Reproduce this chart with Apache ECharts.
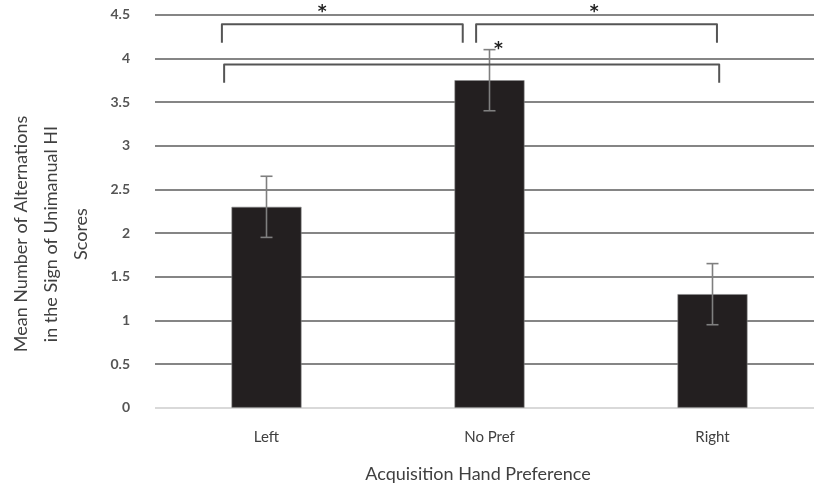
<!DOCTYPE html>
<html>
<head>
<meta charset="utf-8">
<script src="https://cdn.jsdelivr.net/npm/echarts@6/dist/echarts.min.js"></script>
<style>html,body{margin:0;padding:0;background:#fff;}#c{width:814px;height:484px;}</style>
</head>
<body>
<div id="c"></div>
<script>
var categories = ['Left', 'No Pref', 'Right'];
var means = [2.3, 3.75, 1.3];
var errLow = [1.95, 3.4, 0.95];
var errHigh = [2.65, 4.1, 1.65];
var yTicks = [0, 0.5, 1, 1.5, 2, 2.5, 3, 3.5, 4, 4.5];
// significance brackets: [xStart, xEnd, yTop, yBottom] in category-index / value units
var brackets = [
  [-0.2, 0.88, 4.39, 4.18],
  [0.94, 2.02, 4.39, 4.18],
  [-0.19, 2.03, 3.93, 3.72]
];
// stars: [x, y]
var stars = [[0.25, 4.56], [1.47, 4.56], [1.04, 4.13]];

var FONT = "Lato, 'Open Sans', sans-serif";
var chart = echarts.init(document.getElementById('c'), null, {renderer: 'canvas'});

var gridColors = yTicks.map(function (t, i) { return i === 0 ? '#d9d9d9' : '#858585'; });

chart.setOption({
  animation: false,
  backgroundColor: '#ffffff',
  title: {
    text: 'Acquisition Hand Preference',
    left: 473, top: 460, textAlign: 'center',
    textStyle: {fontFamily: FONT, fontSize: 18, fontWeight: 'normal', color: '#404040'}
  },
  graphic: [{
    type: 'text',
    x: 51, y: 234,
    rotation: Math.PI / 2,
    style: {
      text: 'Mean Number of Alternations\nin the Sign of Unimanual HI\nScores',
      fontFamily: FONT, fontSize: 18, lineHeight: 30,
      fill: '#404040', align: 'center', verticalAlign: 'middle'
    }
  }],
  grid: {left: 155, width: 669, top: 14.7, bottom: 76.3, containLabel: false, outerBoundsMode: 'none'},
  xAxis: [{
    type: 'category',
    data: categories,
    boundaryGap: true,
    axisLine: {show: false},
    axisTick: {show: false},
    axisLabel: {fontFamily: FONT, fontSize: 15, color: '#404040', margin: 22}
  }, {
    type: 'value', min: -0.5, max: 2.5, show: false
  }],
  yAxis: {
    type: 'value', min: 0, max: 4.5, interval: 0.5,
    axisLine: {show: false},
    axisTick: {show: false},
    axisLabel: {fontFamily: FONT, fontSize: 14, color: '#555555', margin: 25, fontWeight: 'bold'},
    splitLine: {show: true, lineStyle: {color: gridColors, width: 2}}
  },
  series: [{
    type: 'bar',
    data: means,
    barWidth: 70,
    itemStyle: {color: '#231f20', borderColor: '#8a8a8a', borderWidth: 0.6},
    z: 2
  }, {
    type: 'custom',
    data: categories.map(function (c, i) { return [i, errLow[i], errHigh[i]]; }),
    renderItem: function (params, api) {
      var lo = api.coord([api.value(0), api.value(1)]);
      var hi = api.coord([api.value(0), api.value(2)]);
      var w = 6;
      var st = {stroke: '#7f7f7f', lineWidth: 1.6};
      return {type: 'group', children: [
        {type: 'line', shape: {x1: hi[0], y1: hi[1], x2: lo[0], y2: lo[1]}, style: st},
        {type: 'line', shape: {x1: hi[0] - w, y1: hi[1], x2: hi[0] + w, y2: hi[1]}, style: st},
        {type: 'line', shape: {x1: lo[0] - w, y1: lo[1], x2: lo[0] + w, y2: lo[1]}, style: st}
      ]};
    },
    z: 3, clip: false
  }, {
    type: 'custom',
    xAxisIndex: 1,
    data: brackets,
    renderItem: function (params, api) {
      var a = api.coord([api.value(0), api.value(3)]);
      var b = api.coord([api.value(0), api.value(2)]);
      var c = api.coord([api.value(1), api.value(2)]);
      var d = api.coord([api.value(1), api.value(3)]);
      return {type: 'polyline', shape: {points: [a, b, c, d]},
        style: {stroke: '#555555', lineWidth: 2, fill: null, lineJoin: 'round'}};
    },
    z: 4, clip: false
  }, {
    type: 'custom',
    xAxisIndex: 1,
    data: stars,
    renderItem: function (params, api) {
      var p = api.coord([api.value(0), api.value(1)]);
      return {type: 'text', x: p[0], y: p[1] + 3,
        style: {text: '*', fontFamily: 'DejaVu Sans', fontSize: 17, fontWeight: 'bold',
          fill: '#222222', align: 'center', verticalAlign: 'middle'}};
    },
    z: 5, clip: false
  }]
});
</script>
</body>
</html>
